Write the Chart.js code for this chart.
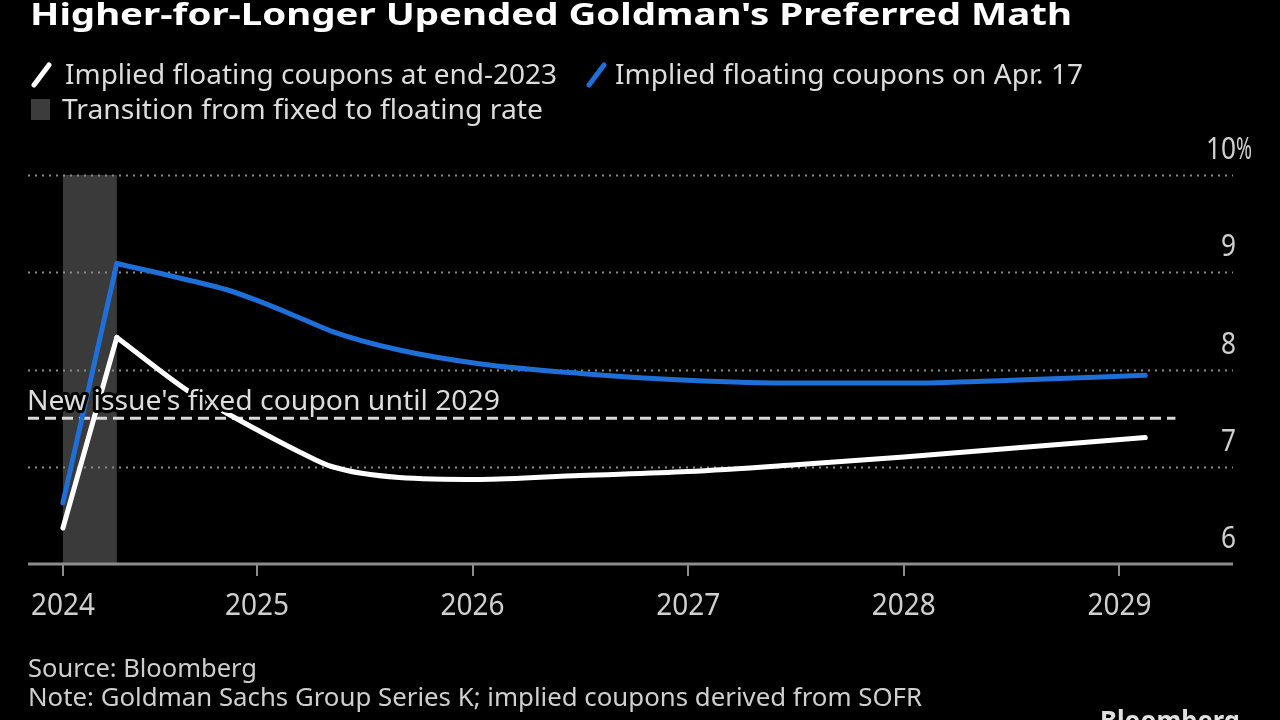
<!DOCTYPE html>
<html>
<head>
<meta charset="utf-8">
<script src="https://cdn.jsdelivr.net/npm/chart.js@4.4.1/dist/chart.umd.min.js"></script>
<style>
html,body{margin:0;padding:0;background:#000;}
#wrap{position:relative;width:1280px;height:720px;}
</style>
</head>
<body>
<div id="wrap"><canvas id="c" width="1280" height="720"></canvas></div>
<script>
// ---- data ----
const years = [2024.10, 2024.35, 2024.70, 2024.86, 2025.00, 2025.20, 2025.35, 2025.66, 2026.03, 2026.50, 2027.00, 2027.50, 2028.00, 2028.50, 2029.12];
const floatEnd2023 = [6.37, 8.33, 7.75, 7.55, 7.38, 7.15, 7.00, 6.89, 6.87, 6.91, 6.95, 7.02, 7.10, 7.19, 7.30];
const floatApr17  = [6.63, 9.09, 8.91, 8.82, 8.71, 8.53, 8.39, 8.20, 8.06, 7.96, 7.89, 7.86, 7.86, 7.89, 7.94];
const peakIndex = 1;
const transitionBand = [2024.10, 2024.35];
const fixedCoupon = 7.5;
const fixedCouponEnd = 2029.26;
const xTickValues = [2024.10, 2025, 2026, 2027, 2028, 2029];
const xTickLabels = ['2024', '2025', '2026', '2027', '2028', '2029'];
const yTickValues = [6, 7, 8, 9, 10];
const yTickLabels = ['6', '7', '8', '9', '10'];

const title = "Higher-for-Longer Upended Goldman's Preferred Math";
const legendLabels = ['Implied floating coupons at end-2023', 'Implied floating coupons on Apr. 17', 'Transition from fixed to floating rate'];
const annotationText = "New issue's fixed coupon until 2029";
const sourceText = 'Source: Bloomberg';
const noteText = 'Note: Goldman Sachs Group Series K; implied coupons derived from SOFR';

const FONT = '"Noto Sans", "DejaVu Sans", sans-serif';

function fitText(ctx, text, x, y, width, size, color, opts) {
  opts = opts || {};
  ctx.save();
  ctx.font = (opts.bold ? 'bold ' : '') + size + 'px ' + FONT;
  ctx.textBaseline = 'alphabetic';
  ctx.textAlign = 'left';
  const w = ctx.measureText(text).width;
  const s = width / w;
  let x0 = x;
  if (opts.align === 'right') x0 = x - width;
  if (opts.align === 'center') x0 = x - width / 2;
  ctx.translate(x0, y);
  ctx.scale(s, 1);
  if (opts.halo) {
    ctx.strokeStyle = '#000';
    ctx.lineWidth = opts.halo / s;
    ctx.lineJoin = 'round';
    ctx.strokeText(text, 0, 0);
  }
  ctx.fillStyle = color;
  ctx.fillText(text, 0, 0);
  ctx.restore();
}

const decor = {
  id: 'decor',
  beforeDatasetsDraw(chart) {
    const ctx = chart.ctx, a = chart.chartArea;
    const xs = chart.scales.x, ys = chart.scales.y;
    ctx.save();
    const b0 = xs.getPixelForValue(transitionBand[0]), b1 = xs.getPixelForValue(transitionBand[1]);
    ctx.fillStyle = '#3a3a3a';
    ctx.fillRect(b0, a.top, b1 - b0, a.bottom - a.top);
    ctx.strokeStyle = '#8a8a8a';
    ctx.lineWidth = 2;
    ctx.setLineDash([2, 5]);
    yTickValues.forEach(v => {
      if (v === 6) return;
      const py = Math.round(ys.getPixelForValue(v)) + 0.5;
      ctx.beginPath(); ctx.moveTo(a.left, py); ctx.lineTo(a.right, py); ctx.stroke();
    });
    ctx.strokeStyle = '#d8d8d8';
    ctx.lineWidth = 3;
    ctx.setLineDash([11, 6]);
    const fy = ys.getPixelForValue(fixedCoupon);
    ctx.beginPath(); ctx.moveTo(a.left, fy); ctx.lineTo(xs.getPixelForValue(fixedCouponEnd), fy); ctx.stroke();
    ctx.setLineDash([]);
    const by = ys.getPixelForValue(6);
    ctx.strokeStyle = '#8c8c8c';
    ctx.lineWidth = 3;
    ctx.beginPath(); ctx.moveTo(a.left, by); ctx.lineTo(a.right, by); ctx.stroke();
    ctx.lineWidth = 2;
    xTickValues.forEach(v => {
      const px = Math.round(xs.getPixelForValue(v));
      ctx.beginPath(); ctx.moveTo(px, by); ctx.lineTo(px, by + 12); ctx.stroke();
    });
    ctx.restore();
  },
  afterDatasetsDraw(chart) {
    const ctx = chart.ctx, a = chart.chartArea;
    const xs = chart.scales.x, ys = chart.scales.y;
    fitText(ctx, annotationText, a.left - 1, ys.getPixelForValue(fixedCoupon) - 8, 473, 28, '#dcdcdc', {halo: 6});
    yTickValues.forEach((v, i) => {
      const py = ys.getPixelForValue(v) - 16;
      const lab = yTickLabels[i];
      const w = lab.length * 15;
      fitText(ctx, lab, 1236, py, w, 30, '#cfcfcf', {align: 'right'});
      if (v === 10) fitText(ctx, '%', 1236, py, 16, 30, '#cfcfcf');
    });
    xTickValues.forEach((v, i) => {
      fitText(ctx, xTickLabels[i], xs.getPixelForValue(v), 615, 64, 30, '#cfcfcf', {align: 'center'});
    });
    fitText(ctx, title, 30, 25, 1042, 31, '#ffffff', {bold: true});
    ctx.save();
    ctx.lineCap = 'round';
    ctx.lineWidth = 5;
    ctx.strokeStyle = '#ffffff';
    ctx.beginPath(); ctx.moveTo(34, 85); ctx.lineTo(49, 65); ctx.stroke();
    ctx.strokeStyle = '#1f6fd9';
    ctx.beginPath(); ctx.moveTo(589, 85); ctx.lineTo(604, 65); ctx.stroke();
    ctx.fillStyle = '#3c3c3c';
    ctx.fillRect(31, 99, 19, 21);
    ctx.restore();
    fitText(ctx, legendLabels[0], 65, 84, 492, 28, '#dcdcdc');
    fitText(ctx, legendLabels[1], 615, 84, 468, 28, '#dcdcdc');
    fitText(ctx, legendLabels[2], 62, 119, 481, 28, '#dcdcdc');
    fitText(ctx, sourceText, 28, 677, 229, 26, '#cfcfcf');
    fitText(ctx, noteText, 28, 706, 894, 26, '#cfcfcf');
    fitText(ctx, 'Bloomberg', 1100, 730, 140, 26, '#e0e0e0', {bold: true});
  }
};

// each series: straight rise to the peak, smooth decay afterwards
function rise(vals) { return years.slice(0, peakIndex + 1).map((x, i) => ({x, y: vals[i]})); }
function decay(vals) { return years.slice(peakIndex).map((x, i) => ({x, y: vals[i + peakIndex]})); }
function ds(label, data, color, smooth) {
  return {
    label, data,
    borderColor: color,
    borderWidth: 5,
    pointRadius: 0,
    tension: smooth ? 0.4 : 0,
    cubicInterpolationMode: smooth ? 'monotone' : 'default',
    borderCapStyle: 'round',
    borderJoinStyle: 'round'
  };
}

new Chart(document.getElementById('c'), {
  type: 'line',
  data: {
    datasets: [
      ds(legendLabels[0], rise(floatEnd2023), '#ffffff', false),
      ds(legendLabels[0], decay(floatEnd2023), '#ffffff', true),
      ds(legendLabels[1], rise(floatApr17), '#1f6fd9', false),
      ds(legendLabels[1], decay(floatApr17), '#1f6fd9', true)
    ]
  },
  options: {
    responsive: false,
    animation: false,
    events: [],
    layout: {padding: {left: 28, right: 47, top: 175, bottom: 156}},
    plugins: {legend: {display: false}, tooltip: {enabled: false}},
    scales: {
      x: {type: 'linear', min: 2023.938, max: 2029.527, display: false},
      y: {type: 'linear', min: 6, max: 10, display: false}
    }
  },
  plugins: [decor]
});
</script>
</body>
</html>
